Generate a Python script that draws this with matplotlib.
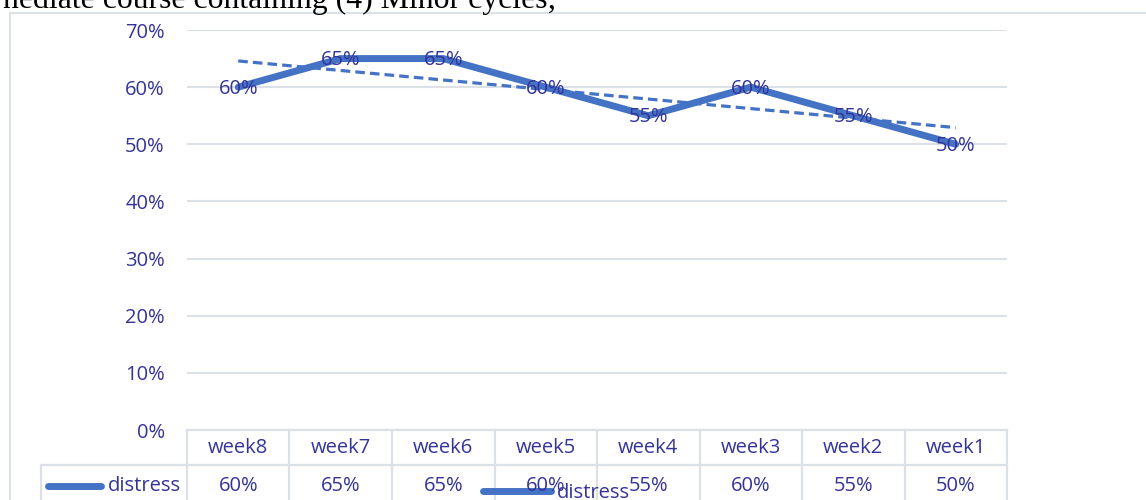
import numpy as np
import matplotlib.pyplot as plt
from matplotlib.lines import Line2D

weeks = ["week8", "week7", "week6", "week5", "week4", "week3", "week2", "week1"]
distress = [0.60, 0.65, 0.65, 0.60, 0.55, 0.60, 0.55, 0.50]
yticks = [0.0, 0.1, 0.2, 0.3, 0.4, 0.5, 0.6, 0.7]

W, H = 1146, 500
blue = "#4472C4"
txt = "#333399"
grid = "#DCE1E8"

plt.rcParams["font.family"] = ["Open Sans", "DejaVu Sans"]

fig = plt.figure(figsize=(W / 100, H / 100), dpi=100)

def fx(px):
    return px / W

def fy(py):
    return 1 - py / H

# plot area in pixels
L, R, T, B = 187, 1007, 30, 430
ax = fig.add_axes([fx(L), fy(B), fx(R) - fx(L), fy(T) - fy(B)])
x = np.arange(len(weeks))
ax.set_xlim(-0.5, len(weeks) - 0.5)
ax.set_ylim(0, 0.7)
ax.set_yticks(yticks)
ax.set_yticklabels([f"{int(round(v * 100))}%" for v in yticks], color=txt, fontsize=14.5)
ax.tick_params(axis="y", length=0, pad=16)
ax.set_xticks([])
for s in ax.spines.values():
    s.set_visible(False)
ax.grid(axis="y", color=grid, lw=1.5)
ax.set_axisbelow(True)

# series line and linear trendline
ax.plot(x, distress, color=blue, lw=5, solid_capstyle="round", zorder=3)
k, b = np.polyfit(x, distress, 1)
ax.plot(x, k * x + b, color=blue, lw=2.3, dashes=(3, 1.6), zorder=3)
for xi, v in zip(x, distress):
    ax.text(xi, v - 0.003, f"{int(round(v * 100))}%", ha="center", va="center",
            color=txt, fontsize=14.5, zorder=4)

# data table below the plot
colw = (R - L) / len(weeks)
row1, row2, bot = 430, 465, 500
lines = [((L, R), (row1, row1)), ((41, R), (row2, row2))]
for i in range(len(weeks) + 1):
    xe = L + i * colw
    lines.append(((xe, xe), (row1, bot)))
lines.append(((41, 41), (row2, bot)))
for xs, ys in lines:
    fig.add_artist(Line2D([fx(p) for p in xs], [fy(p) for p in ys], color=grid, lw=1.6))
for i, w in enumerate(weeks):
    cx = L + (i + 0.5) * colw
    fig.text(fx(cx), fy(448), w, ha="center", va="center", color=txt, fontsize=14.5)
    fig.text(fx(cx), fy(486), f"{int(round(distress[i] * 100))}%", ha="center",
             va="center", color=txt, fontsize=14.5)
fig.add_artist(Line2D([fx(48), fx(101)], [fy(486), fy(486)], color=blue, lw=5,
                      solid_capstyle="round"))
fig.text(fx(181), fy(486), "distress", ha="right", va="center", color=txt, fontsize=14.5)

# legend (partly hidden at the bottom)
fig.add_artist(Line2D([fx(483), fx(551)], [fy(491), fy(491)], color=blue, lw=5,
                      solid_capstyle="round"))
fig.text(fx(557), fy(493), "distress", ha="left", va="center", color=txt, fontsize=14.5)

# chart frame
fig.add_artist(Line2D([fx(10), fx(10)], [fy(13), 0], color=grid, lw=1.5))
fig.add_artist(Line2D([fx(10), 1], [fy(13), fy(13)], color=grid, lw=1.5))

# clipped caption text above the chart
fig.text(fx(556), fy(8), "nediate course containing (4) Minor cycles;", ha="right",
         va="baseline", family="Liberation Serif", fontsize=22.9, color="black")

fig.savefig("out.png", dpi=100)
